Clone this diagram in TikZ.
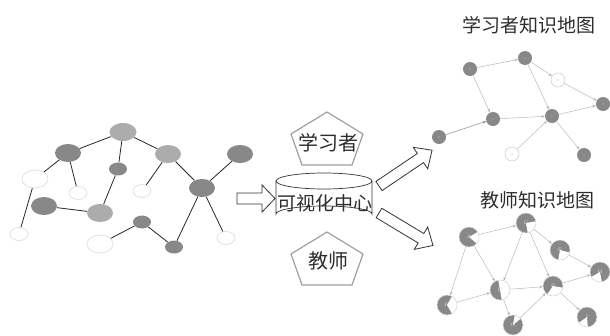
\documentclass[tikz,border=0pt]{standalone}
\usepackage{fontspec}
\newfontfamily\cjk{Noto Sans CJK SC}
\usetikzlibrary{shapes.geometric,arrows.meta}
\definecolor{lg}{RGB}{172,172,172}
\definecolor{dg}{RGB}{136,136,136}
\definecolor{wo}{RGB}{225,225,225}
\definecolor{txt}{RGB}{45,45,45}
\tikzset{
  big/.style={ellipse,inner sep=0pt,minimum width=26pt,minimum height=18pt},
  small/.style={ellipse,inner sep=0pt,minimum width=18pt,minimum height=13pt},
  light/.style={fill=lg},
  dark/.style={fill=dg},
  hollow/.style={fill=white,draw=wo,line width=0.8pt},
  ledge/.style={draw=black!85,line width=0.8pt},
  tnode/.style={circle,inner sep=0pt,minimum size=14pt,fill=dg,font=\fontsize{3}{3}\selectfont,text=gray!60},
  tnodew/.style={tnode,fill=white,draw=gray!35,line width=0.6pt},
  tedge/.style={draw=gray!55,line width=0.5pt,-{Stealth[length=3.5pt,width=3pt]}},
  pie/.style={circle,inner sep=0pt,minimum size=20pt,draw=gray!30,line width=0.5pt,font=\fontsize{5}{5}\selectfont,text=gray!25},
  blockarrow/.style={draw=black!80,fill=white,line width=0.8pt,line join=miter},
  penta/.style={draw=gray!75,fill=white,line width=1.2pt,line join=miter},
  cjktext/.style={font=\cjk,text=txt,inner sep=0pt}
}
\newcommand\pienode[5]{%
  \node[pie,path picture={
    \fill[dg] (path picture bounding box.center) circle[radius=10pt];
    \fill[white] (path picture bounding box.center) -- ++(#3:11pt) arc[start angle=#3,end angle=#4,radius=11pt] -- cycle;
  }] (#1) at (#2) {#5};}
\begin{document}
\begin{tikzpicture}[x=1pt,y=-1pt]
\useasboundingbox (0,0) rectangle (610,335);
% ---------- left graph ----------
\node[big,light,minimum width=27pt] (n1) at (123,132) {};
\node[big,dark] (n2) at (68,153) {};
\node[big,light] (n3) at (168,154) {};
\node[big,dark] (n4) at (240,154) {};
\node[small,dark] (n5) at (118,169) {};
\node[big,hollow] (n6) at (35,179) {};
\node[small,hollow] (n7) at (78,193) {};
\node[small,hollow] (n8) at (142,191) {};
\node[big,dark] (n9) at (202,188) {};
\node[big,dark] (n10) at (44,206) {};
\node[big,light] (n11) at (100,213) {};
\node[small,dark] (n12) at (142,222) {};
\node[small,hollow] (n13) at (19,234) {};
\node[big,hollow] (n14) at (100,244) {};
\node[small,dark] (n15) at (174,247) {};
\node[small,hollow] (n16) at (226,238) {};
\draw[ledge] (n1) -- (n2);
\draw[ledge] (n1) -- (n5);
\draw[ledge] (n1) -- (n3);
\draw[ledge] (n2) -- (n6);
\draw[ledge] (n2) -- (n7);
\draw[ledge] (n6) -- (n13);
\draw[ledge] (n5) -- (n11);
\draw[ledge] (n3) -- (n8);
\draw[ledge] (n3) -- (n9);
\draw[ledge] (n9) -- (n4);
\draw[ledge] (n9) -- (n15);
\draw[ledge] (n9) -- (n16);
\draw[ledge] (n10) -- (n11);
\draw[ledge] (n14) -- (n12);
\draw[ledge] (n12) -- (n15);
% ---------- centre ----------
\draw[blockarrow] (237,193) -- (262,193) -- (262,185) -- (275,198.5) -- (262,212) -- (262,204) -- (237,204) -- cycle;
\draw[penta] (327,112) -- (363,134) -- (352,165) -- (302,165) -- (291,134) -- cycle;
\node[cjktext,font=\cjk\fontsize{20}{20}\selectfont] (learner) at (328,143) {学习者};
\draw[penta] (327,232) -- (363,254) -- (352,285) -- (302,285) -- (291,254) -- cycle;
\node[cjktext,font=\cjk\fontsize{20}{20}\selectfont] (teacher) at (328,261) {教师};
% cylinder
\draw[black!80,line width=0.7pt,fill=white] (276,181) -- (276,214) arc[start angle=180,end angle=360,x radius=48,y radius=8] -- (372,181);
\draw[black!80,line width=0.7pt] (324,181) ellipse[x radius=48,y radius=8];
\node[cjktext,font=\cjk\fontsize{19}{19}\selectfont] (hub) at (325,203) {可视化中心};
\draw[blockarrow,shift={(379,186)},rotate=34] (0,-5.5) -- (50,-5.5) -- (50,-13) -- (64,0) -- (50,13) -- (50,5.5) -- (0,5.5) -- cycle;
\draw[blockarrow,shift={(379,213)},rotate=-31] (0,-5.5) -- (49,-5.5) -- (49,-13) -- (63,0) -- (49,13) -- (49,5.5) -- (0,5.5) -- cycle;
% ---------- titles ----------
\node[cjktext,font=\cjk\fontsize{19}{19}\selectfont] (t1) at (529,25) {学习者知识地图};
\node[cjktext,font=\cjk\fontsize{19}{19}\selectfont] (t2) at (537,200) {教师知识地图};
% ---------- learner map ----------
\node[tnode] (tA) at (470,69) {A};
\node[tnode] (tC) at (525,58) {C};
\node[tnodew] (tF) at (558,80) {F};
\node[tnode] (tH) at (603,104) {H};
\node[tnode] (tD) at (493,119) {D};
\node[tnode] (tE) at (552,116) {E};
\node[tnode] (tB) at (439,137) {B};
\node[tnodew] (tG) at (512,154) {G};
\node[tnode] (tI) at (584,155) {I};
\draw[tedge] (tA) -- (tC);
\draw[tedge] (tA) -- (tD);
\draw[tedge] (tC) -- (tF);
\draw[tedge] (tC) -- (tE);
\draw[tedge] (tF) -- (tH);
\draw[tedge] (tD) -- (tE);
\draw[tedge,draw=gray!85] (tB) -- (tD);
\draw[tedge] (tG) -- (tE);
\draw[tedge] (tE) -- (tH);
\draw[tedge] (tE) -- (tI);
% ---------- teacher map ----------
\pienode{bA}{469,237}{-40}{30}{A}
\pienode{bC}{526,223}{-80}{10}{C}
\pienode{bF}{560,250}{-100}{-15}{F}
\pienode{bH}{600,272}{-150}{-80}{H}
\pienode{bD}{500,290}{-80}{100}{D}
\pienode{bE}{553,286}{-125}{-10}{E}
\pienode{bB}{447,305}{-60}{60}{B}
\pienode{bG}{513,325}{40}{80}{G}
\pienode{bI}{587,317}{-145}{-85}{I}
\draw[tedge] (bA) -- (bC);
\draw[tedge] (bA) -- (bD);
\draw[tedge] (bA) -- (bB);
\draw[tedge] (bC) -- (bF);
\draw[tedge] (bC) -- (bE);
\draw[tedge] (bC) -- (bD);
\draw[tedge] (bF) -- (bH);
\draw[tedge] (bD) -- (bE);
\draw[tedge] (bB) -- (bD);
\draw[tedge] (bG) -- (bE);
\draw[tedge] (bD) -- (bG);
\draw[tedge] (bE) -- (bH);
\draw[tedge] (bE) -- (bI);
\end{tikzpicture}
\end{document}
